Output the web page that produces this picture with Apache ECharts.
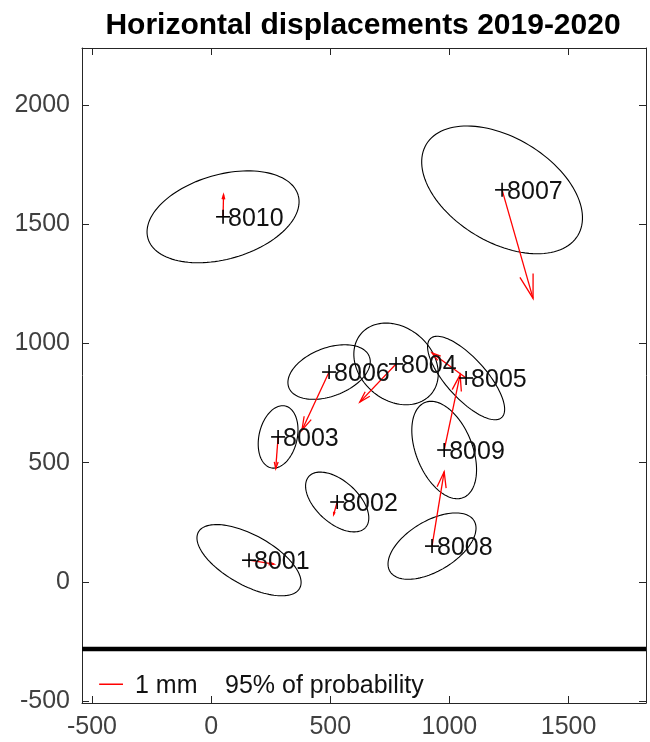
<!DOCTYPE html>
<html>
<head>
<meta charset="utf-8">
<script src="https://cdn.jsdelivr.net/npm/echarts@6/dist/echarts.min.js"></script>
<style>
  html, body { margin: 0; padding: 0; background: #fff; }
  #chart { width: 650px; height: 742px; }
</style>
</head>
<body>
<div id="chart"></div>
<script>
// station coordinates (m)
const stations = ['8001', '8002', '8003', '8004', '8005', '8006', '8007', '8008', '8009', '8010']
const east = [159, 529, 281, 776, 1070, 495, 1221, 927, 978, 50]
const north = [91, 335, 608, 914, 855, 880, 1644, 150, 553, 1531]
// horizontal displacements 2019-2020 (mm)
const dEast = [1.05, -0.15, -0.10, -1.52, -1.43, -1.14, 1.30, 0.51, 0.67, 0.02]
const dNorth = [-0.17, -0.53, -1.33, -1.60, 1.05, -2.44, -4.55, 3.12, 3.16, 0.93]
// 95% error ellipses: semi axes (plot units) and angle of major axis (deg, ccw from east)
const ellA = [243, 160, 133, 194, 223, 181, 371, 206, 215, 328]
const ellB = [105, 88, 80, 152, 84, 101, 219, 105, 118, 177]
const ellAngle = [-29, -42, 77, -41, -48, 21, -31, 31, -68, 16]

const arrowScale = 100 // plot units per mm
const xMin = -542, xMax = 1825
const yMin = -508, yMax = 2239
const xTicks = [-500, 0, 500, 1000, 1500]
const yTicks = [-500, 0, 500, 1000, 1500, 2000]
const baseLineY = -282
const scaleBarStart = [-470, -429]

const chart = echarts.init(document.getElementById('chart'))

const axisColor = '#262626'
const font = '"Liberation Sans", Arial, Helvetica, sans-serif'

function axisBase (ticks, min, max) {
  return {
    type: 'value',
    min: min,
    max: max,
    splitNumber: 5,
    axisLine: { show: true, onZero: false, lineStyle: { color: axisColor, width: 1 } },
    axisTick: { show: true, inside: true, length: 7, lineStyle: { color: axisColor, width: 1 } },
    splitLine: { show: false },
    axisLabel: {
      show: true,
      color: '#404040',
      fontSize: 25,
      fontFamily: font,
      formatter: v => ticks.includes(v) ? String(v) : ''
    }
  }
}

const xBottom = axisBase(xTicks, xMin, xMax)
xBottom.position = 'bottom'
xBottom.axisLabel.margin = 12
const xTop = axisBase(xTicks, xMin, xMax)
xTop.position = 'top'
xTop.axisLabel.show = false
const yLeft = axisBase(yTicks, yMin, yMax)
yLeft.position = 'left'
yLeft.axisLabel.margin = 12
const yRight = axisBase(yTicks, yMin, yMax)
yRight.position = 'right'
yRight.axisLabel.show = false

const idx = stations.map((s, i) => i)

function renderEllipse (params, api) {
  const i = api.value(0)
  const t0 = ellAngle[i] * Math.PI / 180
  const pts = []
  for (let k = 0; k <= 120; k++) {
    const t = k / 120 * Math.PI * 2
    const u = ellA[i] * Math.cos(t)
    const v = ellB[i] * Math.sin(t)
    pts.push(api.coord([east[i] + u * Math.cos(t0) - v * Math.sin(t0), north[i] + u * Math.sin(t0) + v * Math.cos(t0)]))
  }
  return {
    type: 'polyline',
    shape: { points: pts },
    style: { stroke: '#000', lineWidth: 1.1, fill: null }
  }
}

function renderArrow (params, api) {
  const i = api.value(0)
  const p0 = api.coord([east[i], north[i]])
  const p1 = api.coord([east[i] + dEast[i] * arrowScale, north[i] + dNorth[i] * arrowScale])
  const dx = p1[0] - p0[0]
  const dy = p1[1] - p0[1]
  const len = Math.sqrt(dx * dx + dy * dy)
  const ang = Math.atan2(dy, dx)
  const head = len * 0.22
  const spread = 16 * Math.PI / 180
  const h1 = [p1[0] - head * Math.cos(ang - spread), p1[1] - head * Math.sin(ang - spread)]
  const h2 = [p1[0] - head * Math.cos(ang + spread), p1[1] - head * Math.sin(ang + spread)]
  const style = { stroke: '#ff0000', lineWidth: 1.3, fill: null }
  return {
    type: 'group',
    children: [
      { type: 'line', shape: { x1: p0[0], y1: p0[1], x2: p1[0], y2: p1[1] }, style: style },
      { type: 'polyline', shape: { points: [h1, p1, h2] }, style: style }
    ]
  }
}

function renderStation (params, api) {
  const i = api.value(0)
  const p = api.coord([east[i], north[i]])
  const s = 7
  const style = { stroke: '#000', lineWidth: 1.6 }
  return {
    type: 'group',
    children: [
      { type: 'line', shape: { x1: p[0] - s, y1: p[1], x2: p[0] + s, y2: p[1] }, style: style },
      { type: 'line', shape: { x1: p[0], y1: p[1] - s, x2: p[0], y2: p[1] + s }, style: style },
      {
        type: 'text',
        x: p[0] + 5,
        y: p[1] + 2,
        style: { text: stations[i], fill: '#111', font: '25px ' + font, align: 'left', verticalAlign: 'middle' }
      }
    ]
  }
}

const option = {
  animation: false,
  backgroundColor: '#fff',
  grid: { left: 82, right: 4, top: 48, bottom: 39, containLabel: false },
  xAxis: [xBottom, xTop],
  yAxis: [yLeft, yRight],
  graphic: [
    {
      type: 'text',
      x: 363,
      y: 26,
      style: { text: 'Horizontal displacements 2019-2020', fill: '#000', font: 'bold 30px ' + font, align: 'center', verticalAlign: 'middle' }
    },
    {
      type: 'text',
      x: 135,
      y: 686,
      style: { text: '1 mm', fill: '#111', font: '25px ' + font, align: 'left', verticalAlign: 'middle' }
    },
    {
      type: 'text',
      x: 225,
      y: 686,
      style: { text: '95% of probability', fill: '#111', font: '25px ' + font, align: 'left', verticalAlign: 'middle' }
    }
  ],
  series: [
    {
      type: 'line',
      data: [[xMin, baseLineY], [xMax, baseLineY]],
      symbol: 'none',
      lineStyle: { color: '#000', width: 4.5 },
      silent: true
    },
    {
      type: 'line',
      data: [scaleBarStart, [scaleBarStart[0] + arrowScale, scaleBarStart[1]]],
      symbol: 'none',
      lineStyle: { color: '#ff0000', width: 1.5 },
      silent: true
    },
    { type: 'custom', data: idx, renderItem: renderEllipse, silent: true },
    { type: 'custom', data: idx, renderItem: renderArrow, silent: true },
    { type: 'custom', data: idx, renderItem: renderStation, silent: true }
  ]
}

chart.setOption(option)
</script>
</body>
</html>
